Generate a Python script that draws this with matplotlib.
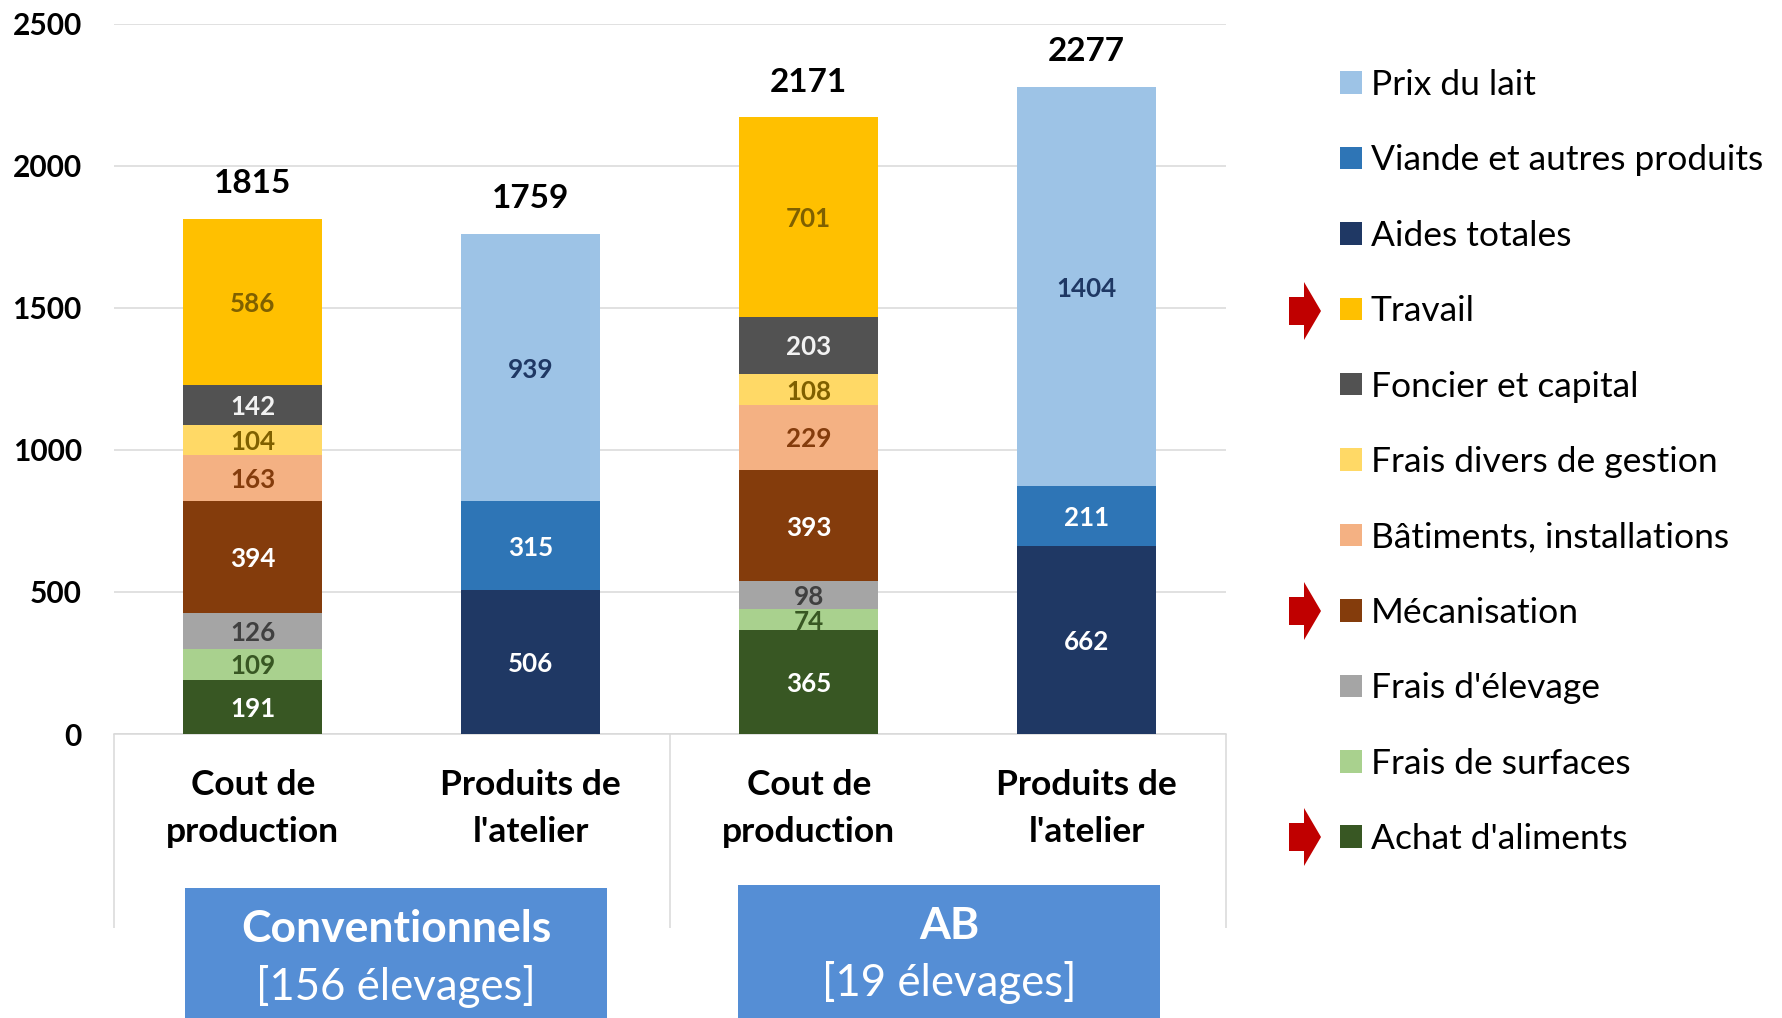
import matplotlib
matplotlib.use('Agg')
import matplotlib.pyplot as plt
from matplotlib.patches import Polygon, Rectangle

plt.rcParams['font.family'] = ['Lato', 'DejaVu Sans']

W, H = 1783, 1018

categories = ["Cout de\nproduction", "Produits de\nl'atelier", "Cout de\nproduction", "Produits de\nl'atelier"]
totals = [1815, 1759, 2171, 2277]
yticks = [0, 500, 1000, 1500, 2000, 2500]

achat = [191, 0, 365, 0]
surfaces = [109, 0, 74, 0]
elevage = [126, 0, 98, 0]
mecanisation = [394, 0, 393, 0]
batiments = [163, 0, 229, 0]
divers = [104, 0, 108, 0]
foncier = [142, 0, 203, 0]
travail = [586, 0, 701, 0]
aides = [0, 506, 0, 662]
viande = [0, 315, 0, 211]
lait = [0, 939, 0, 1404]

# bottom to top, (name, values, fill colour, label colour)
series = [
    ("Achat d'aliments", achat, '#385723', 'white'),
    ("Frais de surfaces", surfaces, '#A9D18E', '#385723'),
    ("Frais d'élevage", elevage, '#A5A5A5', '#404040'),
    ("Mécanisation", mecanisation, '#843C0C', 'white'),
    ("Bâtiments, installations", batiments, '#F4B183', '#843C0C'),
    ("Frais divers de gestion", divers, '#FFD966', '#7F6000'),
    ("Foncier et capital", foncier, '#525252', '#F2F2F2'),
    ("Travail", travail, '#FFC000', '#7F6000'),
    ("Aides totales", aides, '#1F3864', 'white'),
    ("Viande et autres produits", viande, '#2E75B6', 'white'),
    ("Prix du lait", lait, '#9DC3E6', '#1F3864'),
]


def fx(px):
    return px / W


def fy(py):
    return 1 - py / H


fig = plt.figure(figsize=(W / 100, H / 100), dpi=100)
ax = fig.add_axes([fx(113.7), fy(734), 1112 / W, (734 - 24) / H])

x = range(4)
bottom = [0, 0, 0, 0]
handles = []
for name, values, color, label_color in series:
    bars = ax.bar(x, values, 0.5, bottom=bottom, color=color, label=name, zorder=3)
    handles.append(bars)
    for i, v in enumerate(values):
        if v > 0:
            ax.annotate(str(v), (i, bottom[i] + v / 2), xytext=(0, -1.5), textcoords='offset points',
                        ha='center', va='center', fontsize=18.7, fontweight='bold',
                        color=label_color, zorder=4)
    bottom = [b + v for b, v in zip(bottom, values)]

for i, total in enumerate(totals):
    ax.annotate(str(total), (i, bottom[i]), xytext=(0, 25.5), textcoords='offset points',
                ha='center', va='center', fontsize=24, fontweight='bold')

ax.set_xlim(-0.5, 3.5)
ax.set_ylim(0, 2500)
ax.set_yticks(yticks)
ax.set_xticks(list(x))
ax.set_xticklabels(categories, fontsize=25.5, fontweight='bold', linespacing=1.6)
for lab in ax.get_yticklabels():
    lab.set_fontsize(21.5)
    lab.set_fontweight('bold')
ax.tick_params(axis='y', length=0, pad=23)
ax.tick_params(axis='x', length=0, pad=25)
ax.grid(axis='y', color='#D9D9D9', linewidth=1.1, zorder=0)
ax.set_axisbelow(True)
for side in ['top', 'right', 'left']:
    ax.spines[side].set_visible(False)
ax.spines['bottom'].set_color('#D9D9D9')
ax.spines['bottom'].set_linewidth(1.1)

# separators of the two-level axis
ax.vlines([-0.5, 1.5, 3.5], 0, -(928 - 734) / (734 - 24), color='#D9D9D9', linewidth=1.1,
          transform=ax.get_xaxis_transform(), clip_on=False)

# group boxes
groups = [("Conventionnels", "[156 élevages]", 185, 607, 888, 929, 986),
          ("AB", "[19 élevages]", 738, 1160, 885, 926, 983)]
for title, sub, x0, x1, top, y1, y2 in groups:
    fig.add_artist(Rectangle((fx(x0), 0), (x1 - x0) / W, fy(top), transform=fig.transFigure,
                             facecolor='#558ED5', edgecolor='none', zorder=5))
    cx = fx((x0 + x1) / 2)
    fig.text(cx, fy(y1), title, ha='center', va='center', color='white', fontsize=32,
             fontweight='bold', zorder=6)
    fig.text(cx, fy(y2), sub, ha='center', va='center', color='white', fontsize=31.5, zorder=6)

# legend, top entry first as in the stack
leg = fig.legend(handles[::-1], [s[0] for s in series][::-1], loc='upper left',
                 bbox_to_anchor=(fx(1340.5), fy(69)), frameon=False, fontsize=25.5,
                 handlelength=0.6, handleheight=0.6, handletextpad=0.25,
                 labelspacing=1.226, borderpad=0, borderaxespad=0)

# red arrows beside Travail, Mécanisation, Achat d'aliments
for cy in [311, 611, 837]:
    pts = [(1289, cy - 14), (1304, cy - 14), (1304, cy - 29), (1321, cy),
           (1304, cy + 29), (1304, cy + 14), (1289, cy + 14)]
    fig.add_artist(Polygon([(fx(a), fy(b)) for a, b in pts], closed=True,
                           transform=fig.transFigure, facecolor='#C00000', edgecolor='none'))

fig.savefig('out.png', dpi=100)
